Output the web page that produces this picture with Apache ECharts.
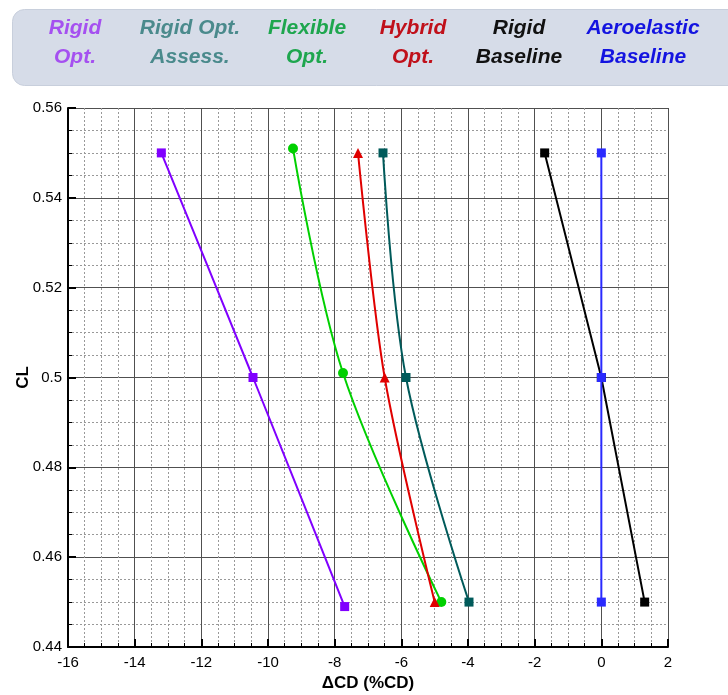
<!DOCTYPE html>
<html>
<head>
<meta charset="utf-8">
<script src="https://cdn.jsdelivr.net/npm/echarts@6/dist/echarts.min.js"></script>
<style>
  html, body { margin: 0; padding: 0; background: #fff; }
  #chart { width: 728px; height: 695px; }
</style>
</head>
<body>
<div id="chart"></div>
<script>
// Lift coefficient levels (shared by every series)
const clLevels = [0.45, 0.50, 0.55];

// Drag change (% CD) at each CL level
const rigidOpt        = [-7.7, -10.45, -13.2];
const rigidOptAssess  = [-3.97, -5.86, -6.55];
const flexibleOpt     = [-4.8, -7.75, -9.25];
const hybridOpt       = [-5.0, -6.5, -7.3];
const rigidBaseline   = [1.3, 0.0, -1.7];
const aeroBaseline    = [0.0, 0.0, 0.0];

// CL per point where it departs from the nominal level
const rigidOptCL      = [0.449, 0.50, 0.55];
const flexibleOptCL   = [0.45, 0.501, 0.551];

const seriesNames = [
  ['Rigid', 'Opt.'],
  ['Rigid Opt.', 'Assess.'],
  ['Flexible', 'Opt.'],
  ['Hybrid', 'Opt.'],
  ['Rigid', 'Baseline'],
  ['Aeroelastic', 'Baseline']
];

const xTicks = [-16, 2, 2];      // min, max, interval
const yTicks = [0.44, 0.56, 0.02];

function pairs(xs, ys) { return xs.map((x, i) => [x, ys[i]]); }

const styles = [
  { line: '#8000ff', text: '#a550f0', symbol: 'rect',     size: 9,  smooth: 0.15, data: pairs(rigidOpt, rigidOptCL) },
  { line: '#005a5a', text: '#4a8a8c', symbol: 'rect',     size: 9,  smooth: 0.35, data: pairs(rigidOptAssess, clLevels) },
  { line: '#00d000', text: '#1ea64e', symbol: 'circle',   size: 10, smooth: 0.35, data: pairs(flexibleOpt, flexibleOptCL) },
  { line: '#e00000', text: '#c0101a', symbol: 'triangle', size: 10, smooth: 0.3,  data: pairs(hybridOpt, clLevels) },
  { line: '#000000', text: '#111111', symbol: 'rect',     size: 9,  smooth: 0,    data: pairs(rigidBaseline, clLevels) },
  { line: '#2a2aff', text: '#1414e0', symbol: 'rect',     size: 9,  smooth: 0,    data: pairs(aeroBaseline, clLevels) }
];

const legendCenters = [75, 190, 307, 413, 519, 643];

const series = styles.map((s, i) => ({
  name: seriesNames[i].join(' '),
  type: 'line',
  data: s.data,
  smooth: s.smooth,
  symbol: s.symbol,
  symbolSize: s.size,
  showAllSymbol: true,
  lineStyle: { color: s.line, width: 2 },
  itemStyle: { color: s.line },
  z: 10 + i
}));

const graphic = [
  {
    type: 'rect',
    left: 12, top: 9,
    shape: { width: 740, height: 76, r: 12 },
    style: { fill: '#d6dce8', stroke: '#c8cfdc' },
    z: 0
  }
];
styles.forEach((s, i) => {
  seriesNames[i].forEach((word, k) => {
    graphic.push({
      type: 'text',
      x: legendCenters[i],
      y: 28 + k * 29,
      style: {
        text: word,
        fill: s.text,
        font: 'italic bold 21px "Liberation Sans", Arial, sans-serif',
        textAlign: 'center',
        textVerticalAlign: 'middle'
      },
      z: 5
    });
  });
});

const chart = echarts.init(document.getElementById('chart'), null, { renderer: 'canvas' });
chart.setOption({
  animation: false,
  backgroundColor: '#ffffff',
  textStyle: { fontFamily: '"Liberation Sans", Arial, sans-serif' },
  grid: { left: 68, right: 60, top: 108, bottom: 48, containLabel: false, outerBoundsMode: 'none' },
  graphic: graphic,
  xAxis: {
    type: 'value',
    min: xTicks[0], max: xTicks[1], interval: xTicks[2],
    name: 'ΔCD (%CD)',
    nameLocation: 'middle',
    nameGap: 28,
    nameMoveOverlap: false,
    nameTextStyle: { fontSize: 17, fontWeight: 'bold', color: '#000' },
    axisLine: { show: true, onZero: false, lineStyle: { color: '#000', width: 2 } },
    axisTick: { show: true, inside: true, length: 8, lineStyle: { color: '#000', width: 2 } },
    minorTick: { show: true, splitNumber: 4, length: 4, lineStyle: { color: '#000', width: 1 } },
    axisLabel: { fontSize: 15, color: '#000', margin: 8 },
    splitLine: { show: true, lineStyle: { color: '#505050', width: 1 } },
    minorSplitLine: { show: true, lineStyle: { color: '#999', width: 1, type: [2, 2] } }
  },
  yAxis: {
    type: 'value',
    min: yTicks[0], max: yTicks[1], interval: yTicks[2],
    name: 'CL',
    nameLocation: 'middle',
    nameGap: 36,
    nameMoveOverlap: false,
    nameRotate: 90,
    nameTextStyle: { fontSize: 17, fontWeight: 'bold', color: '#000' },
    axisLine: { show: true, onZero: false, lineStyle: { color: '#000', width: 2 } },
    axisTick: { show: true, inside: true, length: 8, lineStyle: { color: '#000', width: 2 } },
    minorTick: { show: true, splitNumber: 4, length: 4, lineStyle: { color: '#000', width: 1 } },
    axisLabel: { fontSize: 15, color: '#000', margin: 6 },
    splitLine: { show: true, lineStyle: { color: '#505050', width: 1 } },
    minorSplitLine: { show: true, lineStyle: { color: '#999', width: 1, type: [2, 2] } }
  },
  series: series
});
</script>
</body>
</html>
